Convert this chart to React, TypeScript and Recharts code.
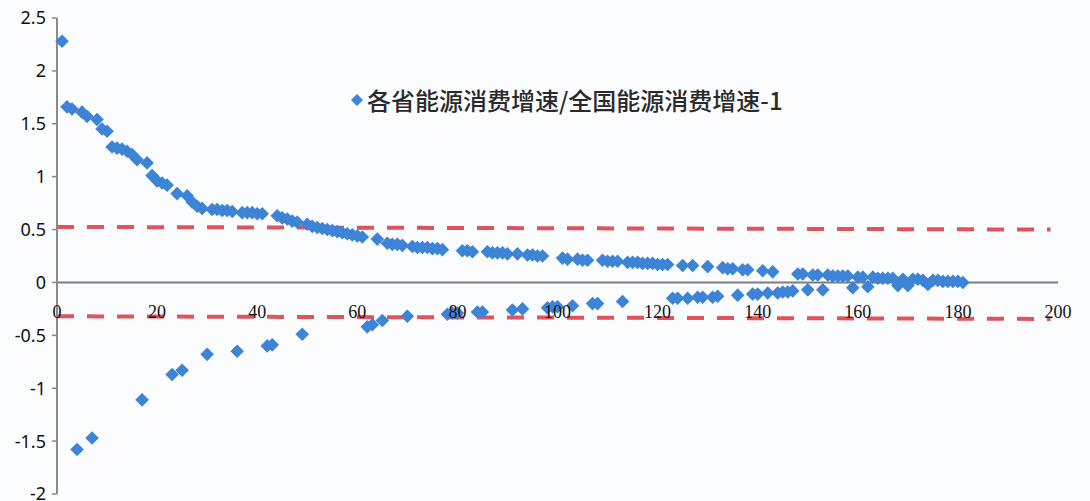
import {
  ScatterChart,
  Scatter,
  XAxis,
  YAxis,
  ReferenceLine,
  ReferenceDot,
} from "recharts";

// 各省能源消费增速/全国能源消费增速-1, in rank order (x = 1, 2, 3, ...)
const ratioValues: number[] = [
  2.28, 1.66, 1.64, -1.58, 1.61, 1.57, -1.47, 1.54, 1.45, 1.43,
  1.28, 1.27, 1.26, 1.24, 1.21, 1.16, -1.11, 1.13, 1.01, 0.96,
  0.94, 0.92, -0.87, 0.84, -0.83, 0.82, 0.76, 0.72, 0.7, -0.68,
  0.69, 0.69, 0.68, 0.68, 0.67, -0.65, 0.66, 0.66, 0.66, 0.65,
  0.65, -0.6, -0.59, 0.63, 0.61, 0.6, 0.58, 0.57, -0.49, 0.55,
  0.53, 0.52, 0.51, 0.5, 0.49, 0.48, 0.47, 0.46, 0.45, 0.44,
  0.43, -0.42, -0.4, 0.41, -0.36, 0.37, 0.36, 0.36, 0.35, -0.32,
  0.34, 0.33, 0.33, 0.33, 0.32, 0.32, 0.31, -0.3, -0.29, -0.29,
  0.3, 0.3, 0.29, -0.28, -0.28, 0.29, 0.28, 0.28, 0.28, 0.27,
  -0.26, 0.27, -0.25, 0.26, 0.26, 0.25, 0.25, -0.24, -0.23, -0.23,
  0.23, 0.22, -0.22, 0.22, 0.21, 0.21, -0.2, -0.2, 0.21, 0.2,
  0.2, 0.2, -0.18, 0.19, 0.19, 0.19, 0.18, 0.18, 0.18, 0.17,
  0.17, 0.17, -0.15, -0.15, 0.16, -0.15, 0.16, -0.14, -0.14, 0.15,
  -0.14, -0.13, 0.14, 0.13, 0.13, -0.12, 0.12, 0.12, -0.11, -0.11,
  0.11, -0.1, 0.1, -0.1, -0.09, -0.09, -0.08, 0.08, 0.08, -0.07,
  0.07, 0.07, -0.07, 0.07, 0.06, 0.06, 0.06, 0.06, -0.05, 0.05,
  0.05, -0.04, 0.05, 0.04, 0.04, 0.04, 0.04, -0.03, 0.03, -0.03,
  0.03, 0.03, 0.02, -0.02, 0.02, 0.02, 0.01, 0.01, 0.01, 0.01,
  0.0,
];

const xTicks = [0, 20, 40, 60, 80, 100, 120, 140, 160, 180, 200];
const yTicks = [-2, -1.5, -1, -0.5, 0, 0.5, 1, 1.5, 2, 2.5];

// dashed bounds, left and right ends
const upperBound = [
  { x: 0, y: 0.525 },
  { x: 198.5, y: 0.5 },
];
const lowerBound = [
  { x: 0, y: -0.32 },
  { x: 198.5, y: -0.345 },
];

const seriesName = "各省能源消费增速/全国能源消费增速-1";
const blue = "#3d84d6";
const red = "#e0525c";

const points = ratioValues.map((v, i) => ({ x: i + 1, y: v }));

function Diamond(props: any) {
  const { cx, cy } = props;
  if (cx == null || cy == null) return null;
  const r = 6.8;
  return (
    <path
      d={`M${cx},${cy - r}L${cx + r},${cy}L${cx},${cy + r}L${cx - r},${cy}Z`}
      fill={blue}
    />
  );
}

function LegendBox() {
  return (
    <div
      style={{
        position: "absolute",
        top: 82,
        left: 350,
        display: "flex",
        alignItems: "center",
        fontFamily: '"Noto Sans CJK SC", sans-serif',
        fontSize: 24,
        fontWeight: 500,
        color: "#2a2a2a",
        whiteSpace: "nowrap",
      }}
    >
      <svg width={14} height={14} style={{ marginRight: 3 }}>
        <path d="M7,1L13,7L7,13L1,7Z" fill={blue} />
      </svg>
      {seriesName}
    </div>
  );
}

export default function App() {
  return (
    <div
      style={{
        position: "absolute",
        left: 0,
        top: 0,
        width: 1090,
        height: 501,
        background: "#fbfcfd",
      }}
    >
      <ScatterChart
        width={1090}
        height={501}
        margin={{ top: 18, right: 32, bottom: 7, left: 0 }}
      >
        <XAxis
          type="number"
          dataKey="x"
          domain={[0, 200]}
          ticks={xTicks}
          hide
        />
        <YAxis
          type="number"
          dataKey="y"
          domain={[-2, 2.5]}
          ticks={yTicks}
          width={57}
          interval={0}
          tickSize={5}
          tickMargin={6}
          axisLine={{ stroke: "#8a8a8a", strokeWidth: 2 }}
          tickLine={{ stroke: "#8a8a8a", strokeWidth: 1.5 }}
          tick={{ fill: "#111", fontSize: 18, fontFamily: '"Noto Sans", sans-serif' }}
          tickFormatter={(v: number) => String(v)}
        />
        <ReferenceLine y={0} stroke="#7d7d7d" strokeWidth={2} />
        {xTicks.map((t) => (
          <ReferenceDot
            key={t}
            x={t}
            y={0}
            r={0}
            fill="none"
            stroke="none"
            label={{
              value: String(t),
              position: "bottom",
              offset: 23,
              fill: "#111",
              fontSize: 18,
              fontFamily: '"Liberation Serif", serif',
            }}
          />
        ))}
        <Scatter
          name={seriesName}
          data={points}
          fill={blue}
          shape={<Diamond />}
          isAnimationActive={false}
        />
        <ReferenceLine
          segment={upperBound}
          stroke={red}
          strokeWidth={4}
          strokeDasharray="17 13"
        />
        <ReferenceLine
          segment={lowerBound}
          stroke={red}
          strokeWidth={4}
          strokeDasharray="17 13"
        />
      </ScatterChart>
      <LegendBox />
    </div>
  );
}
